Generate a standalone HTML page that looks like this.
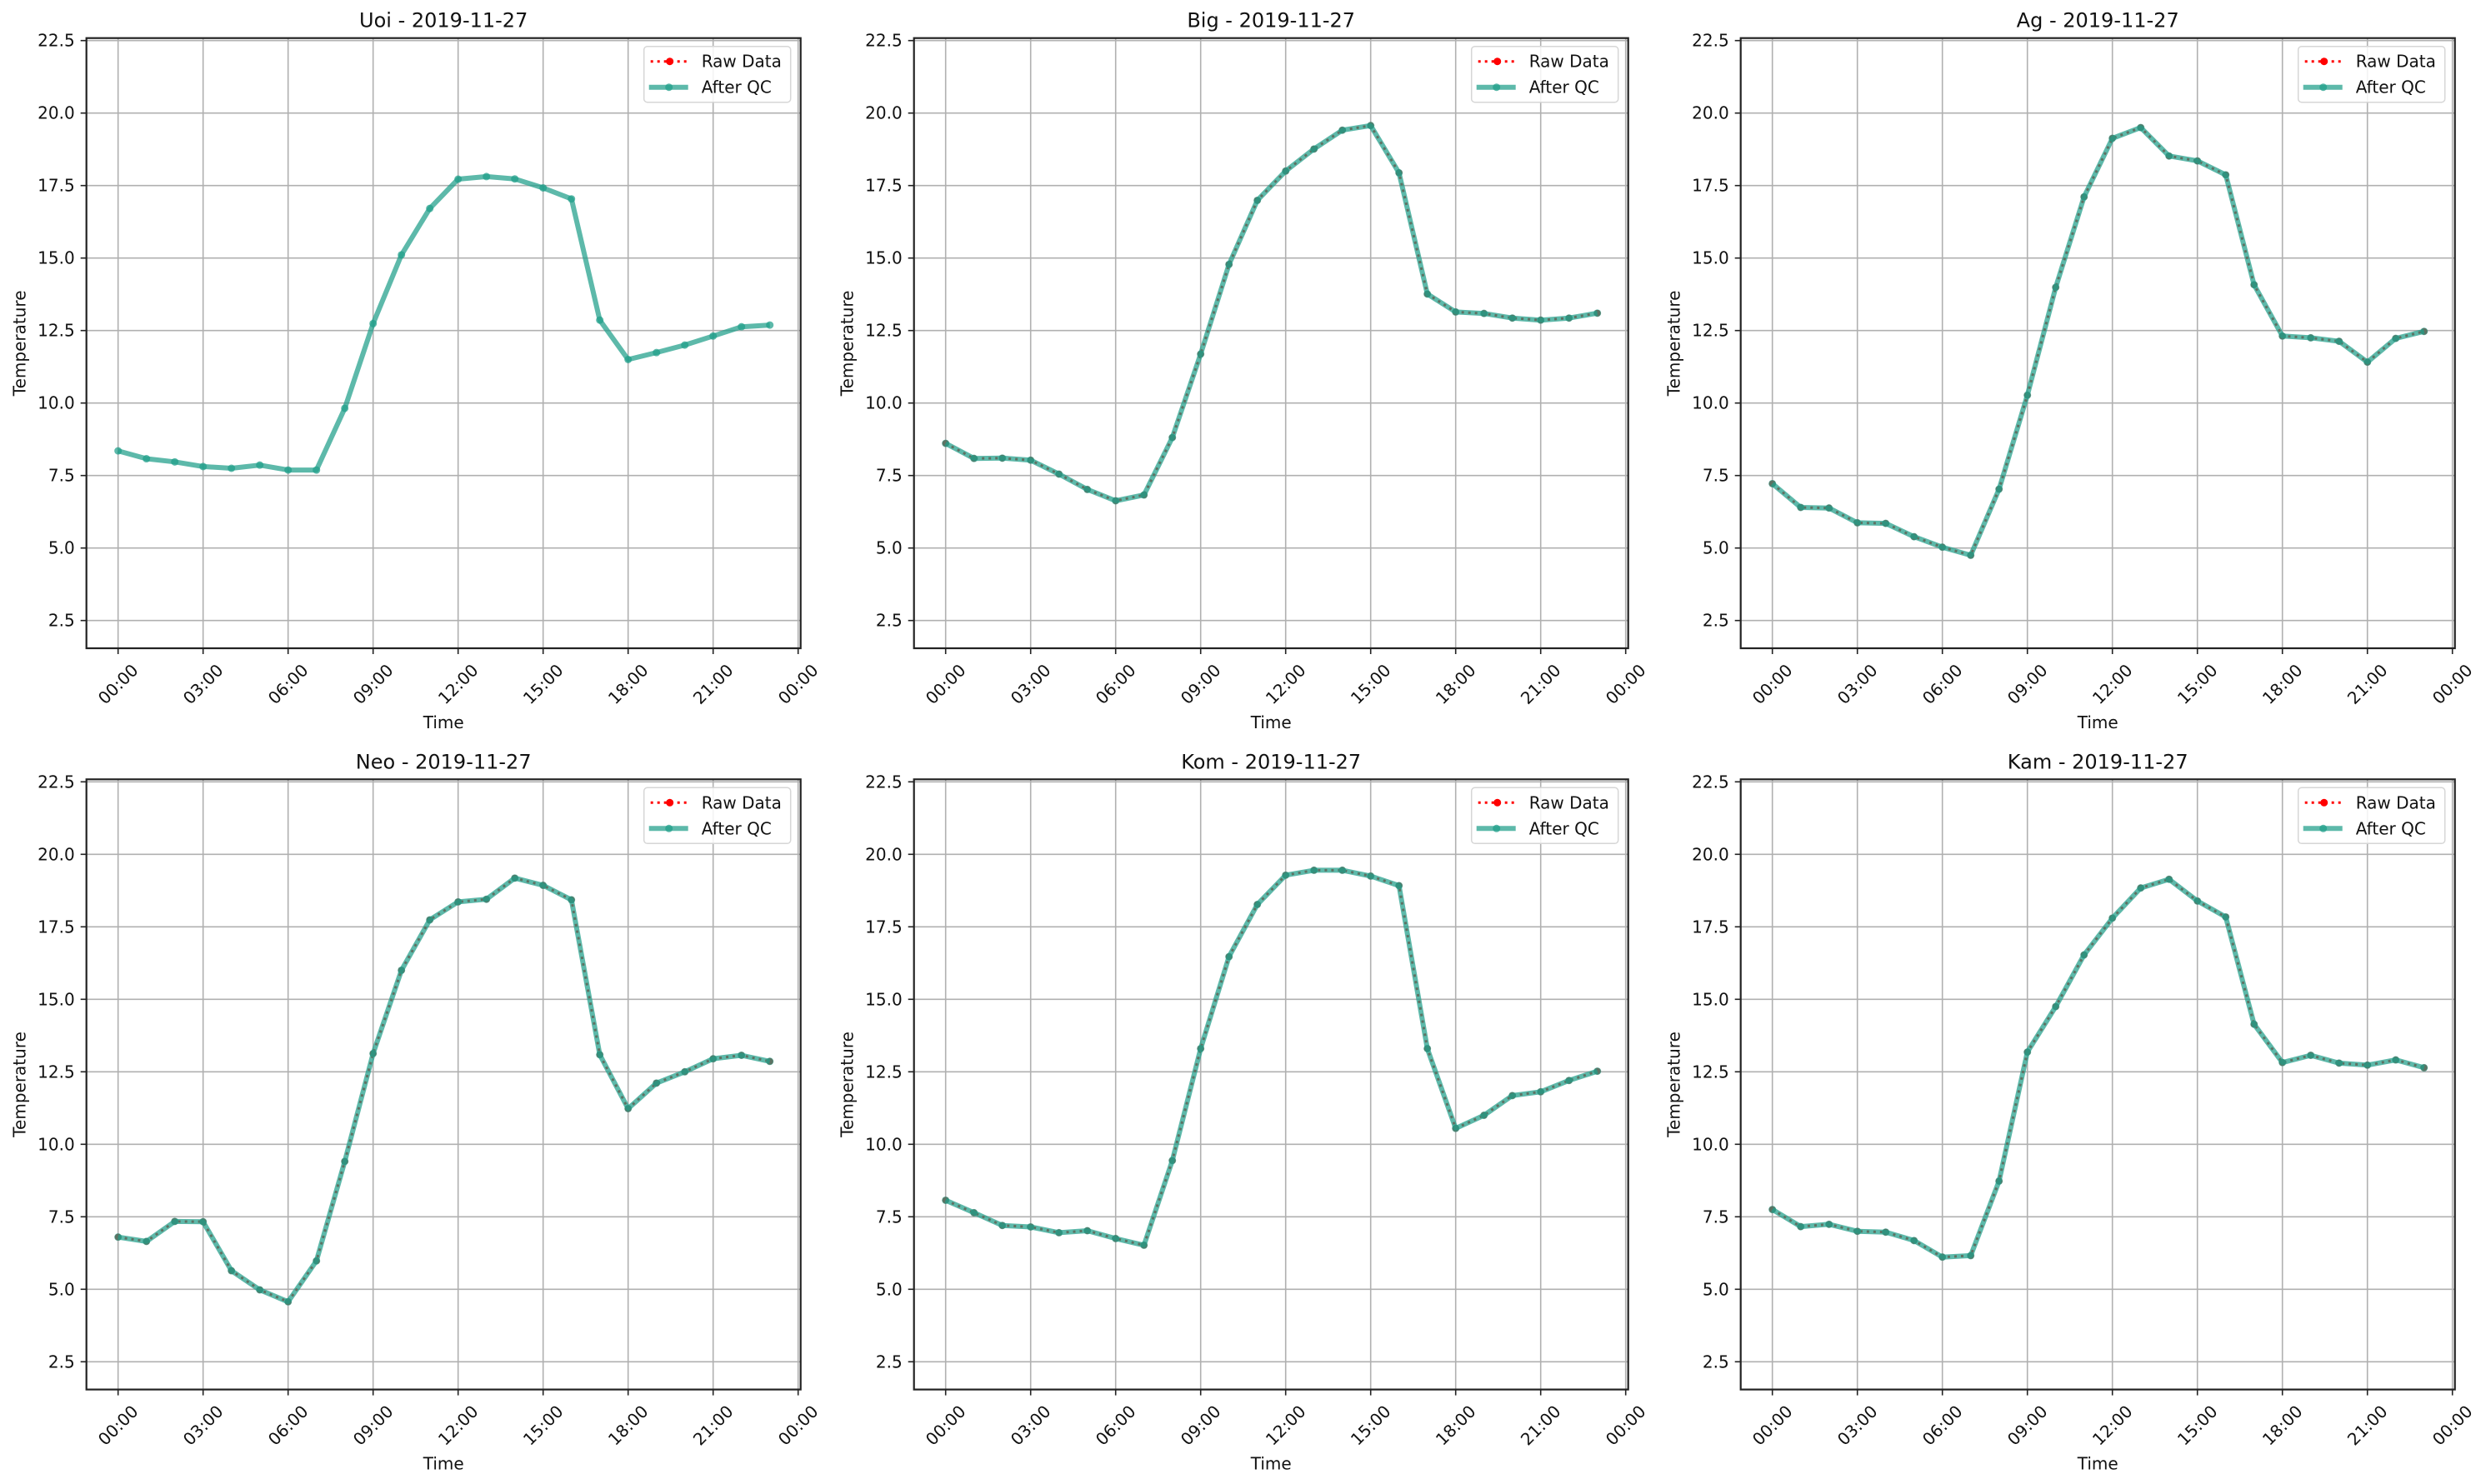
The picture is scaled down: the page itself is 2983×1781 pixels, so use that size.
<!DOCTYPE html>
<html><head><meta charset="utf-8"><style>
html,body{margin:0;padding:0;background:#fff;}
svg{display:block;font-family:"DejaVu Sans","Liberation Sans",sans-serif;}
</style></head><body>
<svg id="fig" width="2983" height="1781" viewBox="0 0 2983 1781" xmlns="http://www.w3.org/2000/svg"></svg>
<script>
const stations = ["Uoi","Big","Ag","Neo","Kom","Kam"];
const dateLabel = "2019-11-27";
const hours = [0,1,2,3,4,5,6,7,8,9,10,11,12,13,14,15,16,17,18,19,20,21,22,23];
const uoiQC = [8.35,8.08,7.97,7.81,7.75,7.86,7.69,7.69,9.82,12.74,15.11,16.71,17.72,17.81,17.73,17.42,17.04,12.86,11.50,11.74,12.0,12.31,12.63,12.69];
const bigQC = [8.61,8.09,8.10,8.03,7.55,7.02,6.63,6.83,8.81,11.69,14.78,16.99,18.0,18.76,19.41,19.57,17.94,13.76,13.14,13.09,12.93,12.86,12.93,13.10];
const agQC = [7.22,6.40,6.38,5.87,5.85,5.39,5.03,4.75,7.03,10.27,13.99,17.11,19.13,19.50,18.52,18.35,17.87,14.08,12.31,12.25,12.13,11.41,12.23,12.47];
const neoQC = [6.80,6.65,7.34,7.33,5.64,4.98,4.57,5.98,9.41,13.13,16.0,17.74,18.36,18.45,19.18,18.93,18.43,13.09,11.23,12.11,12.5,12.95,13.07,12.86];
const komQC = [8.07,7.64,7.20,7.15,6.95,7.02,6.75,6.52,9.44,13.30,16.47,18.27,19.28,19.45,19.45,19.25,18.92,13.30,10.55,11.0,11.68,11.81,12.20,12.52];
const kamQC = [7.75,7.16,7.24,7.0,6.97,6.68,6.11,6.16,8.73,13.18,14.75,16.53,17.80,18.84,19.14,18.39,17.84,14.14,12.82,13.07,12.80,12.73,12.91,12.64];
const qcSeries = [uoiQC,bigQC,agQC,neoQC,komQC,kamQC];
const hasRaw = [false,true,true,true,true,true];
const yTicks = [2.5,5.0,7.5,10.0,12.5,15.0,17.5,20.0,22.5];
const yTickLabels = ["2.5","5.0","7.5","10.0","12.5","15.0","17.5","20.0","22.5"];
const xTicks = [0,3,6,9,12,15,18,21,24];
const xTickLabels = ["00:00","03:00","06:00","09:00","12:00","15:00","18:00","21:00","00:00"];

const NS="http://www.w3.org/2000/svg";
const svg=document.getElementById('fig');
function mk(tag,attrs,parent){const e=document.createElementNS(NS,tag);for(const k in attrs)e.setAttribute(k,attrs[k]);(parent||svg).appendChild(e);return e;}

const colLeft=[103.7,1096.7,2088.7], rowTop=[45.7,935.3];
const W=857, H=732.3;
const Y0=1.543, Y1=22.586;
const TEAL="rgba(31,158,137,0.72)";

stations.forEach((st,i)=>{
  const L=colLeft[i%3], T=rowTop[Math.floor(i/3)];
  const g=mk('g',{});
  
  
  const xs=h=>L+38+h*34;
  const ys=v=>T+H-(v-Y0)/(Y1-Y0)*H;
  // grid
  yTicks.forEach((v,k)=>{
    const ln=mk('line',{x1:L,x2:L+W,y1:ys(v),y2:ys(v),stroke:'#b0b0b0','stroke-width':1.6},g);
    
    
    mk('line',{x1:L-7,x2:L,y1:ys(v),y2:ys(v),stroke:'#222','stroke-width':1.6},g);
    const t=mk('text',{x:L-14,y:ys(v)+7,'text-anchor':'end','font-size':20,fill:'#111'},g);
    t.textContent=yTickLabels[k];
    
    
  });
  xTicks.forEach((h,k)=>{
    const ln=mk('line',{x1:xs(h),x2:xs(h),y1:T,y2:T+H,stroke:'#b0b0b0','stroke-width':1.6},g);
    
    
    mk('line',{x1:xs(h),x2:xs(h),y1:T+H,y2:T+H+7,stroke:'#222','stroke-width':1.6},g);
    const cx=xs(h), cy=T+H+43;
    const t=mk('text',{x:cx,y:cy+7,'text-anchor':'middle','font-size':20,fill:'#111',transform:`rotate(-45 ${cx} ${cy})`},g);
    t.textContent=xTickLabels[k];
    
    
  });
  const data=qcSeries[i];
  const pts=hours.map((h,k)=>xs(h).toFixed(1)+','+ys(data[k]).toFixed(1)).join(' ');
  if(hasRaw[i]){
    const raw=mk('polyline',{points:pts,fill:'none',stroke:'#f00','stroke-width':3,'stroke-dasharray':'3,5'},g);
    
    
    hours.forEach((h,k)=>{
      const c=mk('circle',{cx:xs(h),cy:ys(data[k]),r:4,fill:'#f00'},g);
      
      
    });
  }
  const qc=mk('polyline',{points:pts,fill:'none',stroke:TEAL,'stroke-width':6,'stroke-linejoin':'round'},g);
  
  
  hours.forEach((h,k)=>{
    const c=mk('circle',{cx:xs(h),cy:ys(data[k]),r:4.5,fill:TEAL},g);
    
    
  });
  const fr=mk('rect',{x:L,y:T,width:W,height:H,fill:'none',stroke:'#222','stroke-width':2.2},g);
  
  
  const ti=mk('text',{x:L+W/2,y:T-13,'text-anchor':'middle','font-size':24,fill:'#111'},g);
  ti.textContent=st+' - '+dateLabel;
  
  
  const xl=mk('text',{x:L+W/2,y:T+H+96,'text-anchor':'middle','font-size':20,fill:'#111'},g);
  xl.textContent='Time';
  
  
  const yc=T+H/2;
  const yl=mk('text',{x:30,y:yc,'text-anchor':'middle','font-size':20,fill:'#111',transform:`rotate(-90 ${L-73} ${yc})`},g);
  yl.setAttribute('x',L-73);
  yl.textContent='Temperature';
  
  
  // legend
  const lg=mk('g',{},g);
  
  
  const lx=L+669, ly=T+10;
  mk('rect',{x:lx,y:ly,width:176,height:67,rx:4,fill:'rgba(255,255,255,0.85)',stroke:'#d6d6d6','stroke-width':1.5},lg);
  const e1=mk('g',{},lg);
  
  
  mk('line',{x1:lx+8,x2:lx+54,y1:ly+18,y2:ly+18,stroke:'#f00','stroke-width':3,'stroke-dasharray':'3,5'},e1);
  mk('circle',{cx:lx+31,cy:ly+18,r:4.5,fill:'#f00'},e1);
  const t1=mk('text',{x:lx+69,y:ly+25,'font-size':20,fill:'#111'},e1);
  t1.textContent='Raw Data';
  const e2=mk('g',{},lg);
  
  
  mk('line',{x1:lx+6,x2:lx+53,y1:ly+49,y2:ly+49,stroke:TEAL,'stroke-width':6},e2);
  mk('circle',{cx:lx+30,cy:ly+49,r:4.5,fill:TEAL},e2);
  const t2=mk('text',{x:lx+69,y:ly+56,'font-size':20,fill:'#111'},e2);
  t2.textContent='After QC';
});
</script>
</body></html>
